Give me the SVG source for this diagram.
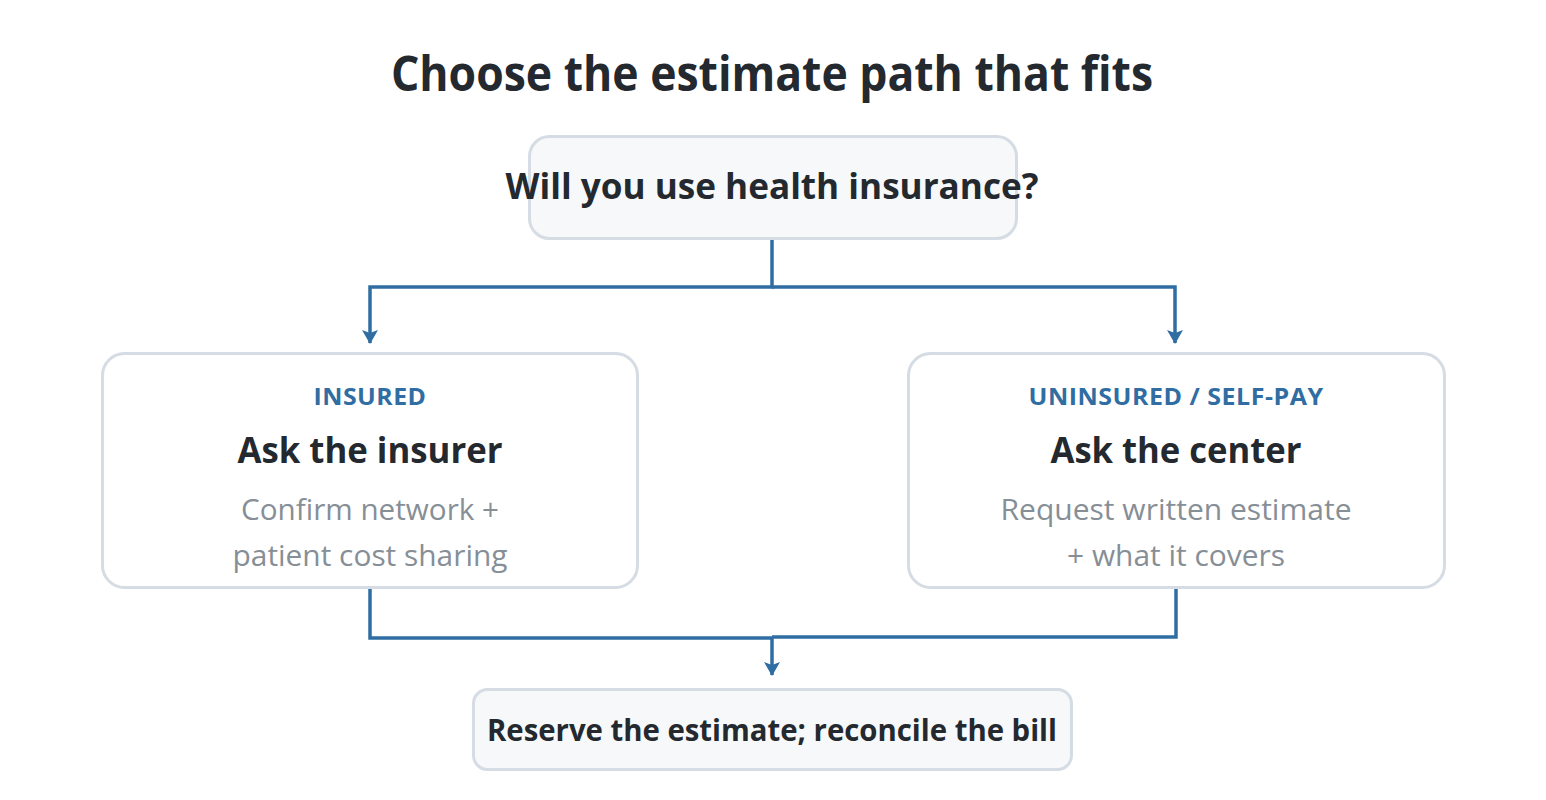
<svg xmlns="http://www.w3.org/2000/svg" width="1546" height="800" viewBox="0 0 1546 800">
  <defs>
    <style>
      .t { font-family: "Source Sans Pro", "Open Sans", "Noto Sans", "Liberation Sans", sans-serif; text-anchor: middle; }
      .title { font-size: 48px; font-weight: 700; fill: #24292f; }
      .q { font-size: 35px; font-weight: 700; fill: #24292f; }
      .kicker { font-size: 24px; font-weight: 700; fill: #2f6da3; letter-spacing: 0.5px; }
      .head { font-size: 36px; font-weight: 700; fill: #24292f; }
      .sub { font-size: 29px; font-weight: 400; fill: #868e96; }
      .fin { font-size: 31px; font-weight: 700; fill: #24292f; }
      .box { fill: #ffffff; stroke: #d5dce3; stroke-width: 3; }
      .soft { fill: #f6f8fa; stroke: #d5dce3; stroke-width: 3; }
      .conn { fill: none; stroke: #2f6da3; stroke-width: 3.5; stroke-linejoin: miter; }
    </style>
    <marker id="arr" viewBox="0 0 14 16" refX="13" refY="8" markerWidth="14" markerHeight="16" markerUnits="userSpaceOnUse" orient="auto">
      <path d="M0,0 L3,8 L0,16 L14,8 Z" fill="#2f6da3"/>
    </marker>
  </defs>
  <rect width="1546" height="800" fill="#ffffff"/>
  <text class="t title" x="772" y="91" textLength="762" lengthAdjust="spacingAndGlyphs">Choose the estimate path that fits</text>

  <g id="connectors">
    <path class="conn" d="M772,240 V287 H370 V343" marker-end="url(#arr)"/>
    <path class="conn" d="M772,287 H1175 V343" marker-end="url(#arr)"/>
    <path class="conn" d="M370,589 V638 H772 V675" marker-end="url(#arr)"/>
    <path class="conn" d="M1176,589 V637 H772"/>
  </g>

  <g id="question">
    <rect class="soft" x="529.5" y="136.5" width="487" height="102" rx="20"/>
    <text class="t q" x="772" y="199" textLength="533" lengthAdjust="spacingAndGlyphs">Will you use health insurance?</text>
  </g>

  <g id="insured">
    <rect class="box" x="102.5" y="353.5" width="535" height="234" rx="22"/>
    <text class="t kicker" x="370" y="405" textLength="113" lengthAdjust="spacingAndGlyphs">INSURED</text>
    <text class="t head" x="370" y="463" textLength="265" lengthAdjust="spacingAndGlyphs">Ask the insurer</text>
    <text class="t sub" x="370" y="520" textLength="258" lengthAdjust="spacingAndGlyphs">Confirm network +</text>
    <text class="t sub" x="370" y="566" textLength="275" lengthAdjust="spacingAndGlyphs">patient cost sharing</text>
  </g>

  <g id="uninsured">
    <rect class="box" x="908.5" y="353.5" width="536" height="234" rx="22"/>
    <text class="t kicker" x="1176" y="405" textLength="295" lengthAdjust="spacingAndGlyphs">UNINSURED / SELF-PAY</text>
    <text class="t head" x="1176" y="463" textLength="251" lengthAdjust="spacingAndGlyphs">Ask the center</text>
    <text class="t sub" x="1176" y="520" textLength="351" lengthAdjust="spacingAndGlyphs">Request written estimate</text>
    <text class="t sub" x="1176" y="566" textLength="218" lengthAdjust="spacingAndGlyphs">+ what it covers</text>
  </g>

  <g id="reconcile">
    <rect class="soft" x="473.5" y="689.5" width="598" height="80" rx="14"/>
    <text class="t fin" x="772" y="741" textLength="570" lengthAdjust="spacingAndGlyphs">Reserve the estimate; reconcile the bill</text>
  </g>
</svg>
